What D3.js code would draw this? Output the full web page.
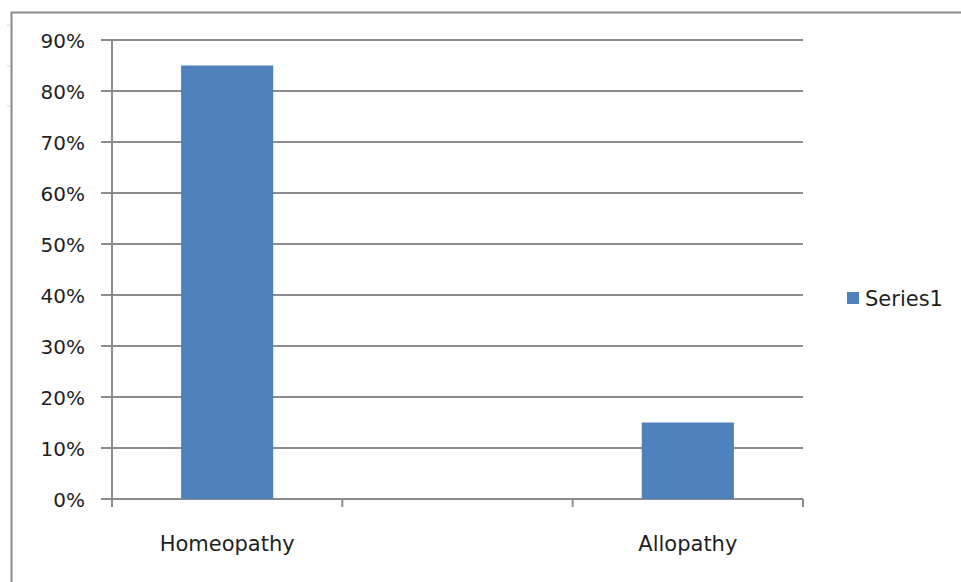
<!DOCTYPE html>
<html>
<head>
<meta charset="utf-8">
<script src="https://cdn.jsdelivr.net/npm/d3@7"></script>
<style>
  html, body { margin: 0; padding: 0; background: #fff; }
  svg { display: block; }
  text { font-family: "DejaVu Sans", Verdana, sans-serif; fill: #1f1f1f; }
</style>
</head>
<body>
<svg id="chart" width="961" height="582"></svg>
<script>
// Chart data (the middle category is an empty row in the source sheet)
const categories = ["Homeopathy", "", "Allopathy"];
const values = [0.85, null, 0.15];
const seriesName = "Series1";
const yTicks = [0, 0.1, 0.2, 0.3, 0.4, 0.5, 0.6, 0.7, 0.8, 0.9];

const svg = d3.select("#chart");
const plot = { left: 112, right: 803, top: 40, bottom: 499 };
const barColor = "#4F81BD";
const gridColor = "#8c8c8c";

// Outer chart frame (extends past the right and bottom edges)
svg.append("path")
  .attr("d", "M11.5,600 V12.5 H980")
  .attr("fill", "none")
  .attr("stroke", "#8a8a8a")
  .attr("stroke-width", 2);

// Small row markers along the left margin
[25, 66, 106].forEach(yy => {
  svg.append("line")
    .attr("x1", 7).attr("x2", 10)
    .attr("y1", yy).attr("y2", yy)
    .attr("stroke", "#c8d4e6").attr("stroke-width", 1);
});

const x = d3.scaleBand()
  .domain(d3.range(categories.length))
  .range([plot.left, plot.right])
  .paddingInner(0.6)
  .paddingOuter(0.3);

const xTickScale = d3.scaleLinear()
  .domain([0, categories.length])
  .range([plot.left, plot.right]);

const y = d3.scaleLinear()
  .domain([0, 0.9])
  .range([plot.bottom, plot.top]);

// Horizontal gridlines, extended left into short tick marks
svg.selectAll(".grid")
  .data(yTicks)
  .join("line")
  .attr("class", "grid")
  .attr("x1", plot.left - 11).attr("x2", plot.right)
  .attr("y1", d => y(d)).attr("y2", d => y(d))
  .attr("stroke", gridColor).attr("stroke-width", 2);

// Y axis labels
const yAxis = d3.axisLeft(y)
  .tickValues(yTicks)
  .tickFormat(d3.format(".0%"))
  .tickSize(0)
  .tickPadding(27);

const gy = svg.append("g")
  .attr("transform", `translate(${plot.left},0)`)
  .call(yAxis);
gy.select(".domain").remove();
gy.selectAll(".tick text")
  .attr("font-size", 20)
  .attr("font-family", "'DejaVu Sans', sans-serif")
  .attr("fill", "#1f1f1f")
  .attr("dy", "0.38em");

// Vertical value axis line
svg.append("line")
  .attr("x1", plot.left).attr("x2", plot.left)
  .attr("y1", plot.top).attr("y2", plot.bottom + 8)
  .attr("stroke", gridColor).attr("stroke-width", 2);

// Category tick marks between categories
svg.selectAll(".xtick")
  .data(d3.range(categories.length + 1))
  .join("line")
  .attr("class", "xtick")
  .attr("x1", d => xTickScale(d)).attr("x2", d => xTickScale(d))
  .attr("y1", plot.bottom).attr("y2", plot.bottom + 8)
  .attr("stroke", gridColor).attr("stroke-width", 2);

// Bars
const rows = categories.map((c, i) => ({ i, c, v: values[i] }));
svg.selectAll(".bar")
  .data(rows.filter(d => d.v != null))
  .join("rect")
  .attr("class", "bar")
  .attr("x", d => x(d.i))
  .attr("width", x.bandwidth())
  .attr("y", d => y(d.v))
  .attr("height", d => y(0) - y(d.v))
  .attr("fill", barColor);

// Category labels
svg.selectAll(".xlabel")
  .data(rows.filter(d => d.c))
  .join("text")
  .attr("class", "xlabel")
  .attr("x", d => x(d.i) + x.bandwidth() / 2)
  .attr("y", 551)
  .attr("text-anchor", "middle")
  .attr("font-size", 21)
  .text(d => d.c);

// Legend
const legend = svg.append("g").attr("transform", "translate(847,292)");
legend.append("rect")
  .attr("width", 12).attr("height", 12)
  .attr("fill", barColor);
legend.append("text")
  .attr("x", 18).attr("y", 6)
  .attr("dy", "0.38em")
  .attr("font-size", 21)
  .text(seriesName);
</script>
</body>
</html>
